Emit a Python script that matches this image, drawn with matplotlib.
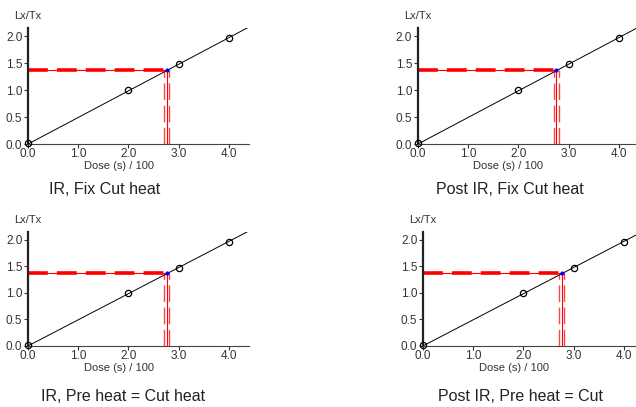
#dose response curves, four heat treatments
import matplotlib.pyplot as plt
import numpy as np

plt.rcParams['font.family'] = ['Liberation Sans', 'DejaVu Sans']

dose = np.array([0.0, 2.0, 3.0, 4.0])
lxtx = np.array([0.02, 1.0, 1.48, 1.97])
fit_x = np.array([0.0, 4.4])
fit_y = np.array([0.0, 2.17])
de_dose = 2.76
natural = 1.37
titles = ['IR, Fix Cut heat', 'Post IR, Fix Cut heat',
          'IR, Pre heat = Cut heat', 'Post IR, Pre heat = Cut']
xticks = [0.0, 1.0, 2.0, 3.0, 4.0]
yticks = [0.0, 0.5, 1.0, 1.5, 2.0]

fig = plt.figure(figsize=(6.36, 4.07), dpi=100)

# axes boxes in figure fractions, title centres
boxes = [[0.044, 0.646, 0.3475, 0.285], [0.657, 0.646, 0.3475, 0.285],
         [0.044, 0.150, 0.3475, 0.280], [0.665, 0.150, 0.3475, 0.280]]
title_pos = [(0.165, 0.517), (0.802, 0.517), (0.194, 0.008), (0.818, 0.008)]

for box, t, tp in zip(boxes, titles, title_pos):
    ax = fig.add_axes(box)
    ax.set_xlim(0, 4.4)
    ax.set_ylim(0, 2.15)
    ax.plot(fit_x, fit_y, color='black', lw=0.7, zorder=3)
    ax.plot(dose, lxtx, 'o', mfc='none', mec='black', ms=4.5, mew=0.9,
            clip_on=False, zorder=4)
    # horizontal: thin line with thick dashes
    ax.plot([0, de_dose], [natural, natural], color='red', lw=0.8, zorder=2)
    ax.plot([0, de_dose], [natural, natural], color='red', lw=2.6,
            dashes=(5.5, 2.5), zorder=2)
    # vertical: thin line with dashed outline
    ax.plot([de_dose, de_dose], [0, natural], color='red', lw=0.8, zorder=2)
    for dx in (-0.055, 0.055):
        ax.plot([de_dose + dx, de_dose + dx], [0, natural], color='#ff4444',
                lw=1.0, dashes=(12, 4), zorder=2)
    ax.plot([de_dose], [natural], 'o', color='blue', ms=2, zorder=5)

    ax.set_xticks(xticks)
    ax.set_xticklabels(['%.1f' % v for v in xticks])
    ax.set_yticks(yticks)
    ax.set_yticklabels(['%.1f' % v for v in yticks])
    ax.tick_params(labelsize=8.5, length=3, width=0.8, pad=1,
                   colors='#333333')
    ax.tick_params(axis='x', pad=0)
    ax.spines['top'].set_visible(False)
    ax.spines['right'].set_visible(False)
    ax.spines['left'].set_linewidth(1.6)
    ax.spines['left'].set_color('#222222')
    ax.spines['bottom'].set_linewidth(0.8)
    ax.spines['bottom'].set_color('#444444')
    ax.set_xlabel('Dose (s) / 100', fontsize=8, color='#333333', labelpad=0)
    ax.xaxis.set_label_coords(0.41, -0.15)
    ax.text(0, 1.06, 'Lx/Tx', transform=ax.transAxes, ha='center',
            va='bottom', fontsize=8, color='#333333')
    fig.text(tp[0], tp[1], t, ha='center', va='bottom', fontsize=11.5,
             color='#222222')

plt.savefig('out.png', dpi=100)
